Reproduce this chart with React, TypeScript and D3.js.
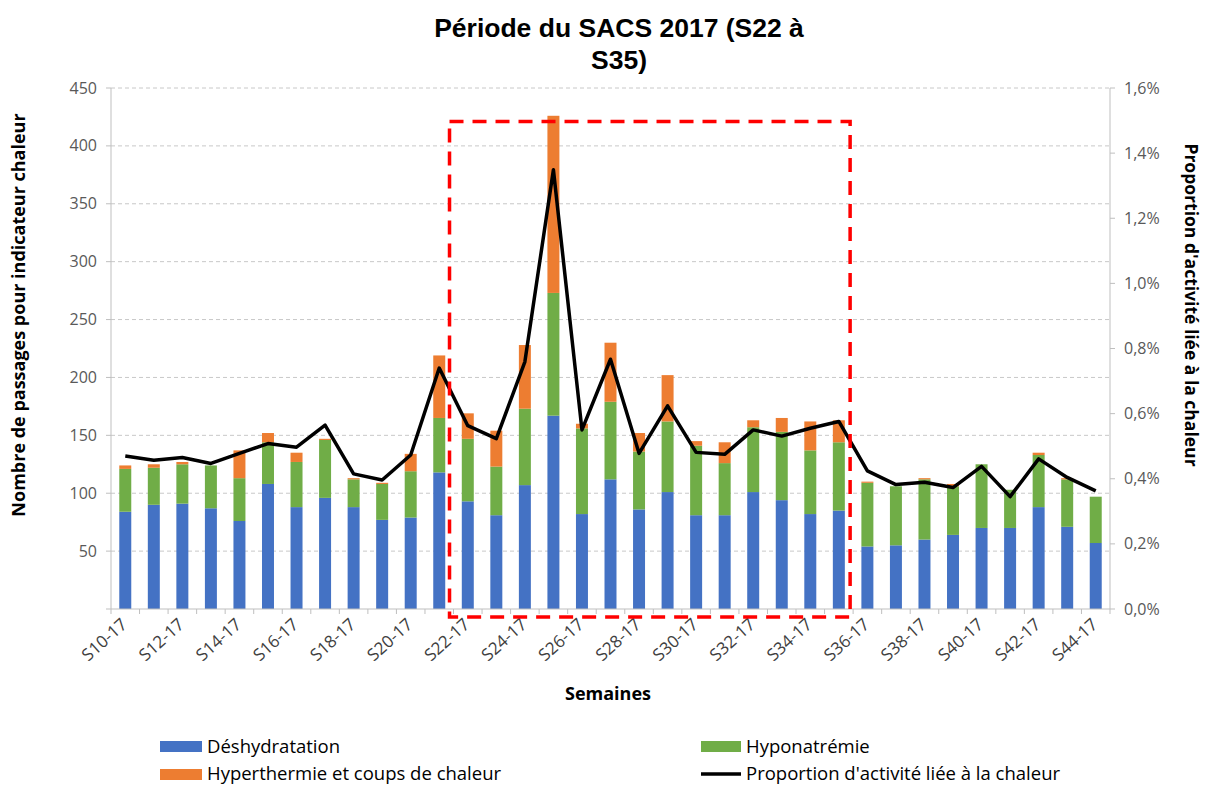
import React from "react";
import * as d3 from "d3";

const weeks = [
  "S10-17","S11-17","S12-17","S13-17","S14-17","S15-17","S16-17","S17-17","S18-17","S19-17",
  "S20-17","S21-17","S22-17","S23-17","S24-17","S25-17","S26-17","S27-17","S28-17","S29-17",
  "S30-17","S31-17","S32-17","S33-17","S34-17","S35-17","S36-17","S37-17","S38-17","S39-17",
  "S40-17","S41-17","S42-17","S43-17","S44-17",
];
const deshydratation = [84,90,91,87,76,108,88,96,88,77,79,118,93,81,107,167,82,112,86,101,81,81,101,94,82,85,54,55,60,64,70,70,88,71,57];
const hyponatremie = [37,32,34,37,37,36,39,50,24,31,40,47,54,42,66,106,74,67,50,61,60,45,56,59,55,59,55,51,52,42,55,33,45,41,40];
const hyperthermie = [3,3,2,0,24,8,8,1,1,1,15,54,22,31,55,153,4,51,16,40,4,18,6,12,25,19,1,0,1,2,0,0,2,1,0];
const proportion = [0.470,0.457,0.465,0.447,0.478,0.508,0.497,0.565,0.415,0.396,0.473,0.740,0.563,0.523,0.759,1.349,0.550,0.767,0.478,0.624,0.481,0.475,0.550,0.531,0.555,0.576,0.424,0.382,0.389,0.373,0.438,0.345,0.461,0.404,0.363];
const leftTicks = [50,100,150,200,250,300,350,400,450];
const rightTicks = [0,0.2,0.4,0.6,0.8,1.0,1.2,1.4,1.6];
const seriesNames = ["Déshydratation","Hyponatrémie","Hyperthermie et coups de chaleur"];
const lineName = "Proportion d'activité liée à la chaleur";
const colors = ["#4472C4","#70AD47","#ED7D31"];
const highlightStart = "S22-17";
const highlightEnd = "S35-17";
const highlightTop = 421;

export default function App() {
  const W = 1206, H = 787;
  const left = 111, right = 1110, top = 88, bottom = 609;
  const x = d3.scaleBand<string>().domain(weeks).range([left, right]).paddingInner(0.58).paddingOuter(0.29);
  const step = x.step();
  const y = d3.scaleLinear().domain([0, 450]).range([bottom, top]);
  const y2 = d3.scaleLinear().domain([0, 1.6]).range([bottom, top]);
  const cx = (w: string) => (x(w) as number) + x.bandwidth() / 2;

  const rows = weeks.map((w, i) => ({ w, v: [deshydratation[i], hyponatremie[i], hyperthermie[i]] }));
  const line = d3.line<number>().x((_, i) => cx(weeks[i])).y((d) => y2(d));
  const fmtPct = (v: number) => d3.format(".1f")(v).replace(".", ",") + "%";
  const font = "'Open Sans', sans-serif";
  const tickColor = "#595959";

  const hx0 = cx(highlightStart) - step / 2 - 4;
  const hx1 = cx(highlightEnd) + step / 2 - 3;

  return (
    <svg width={W} height={H} style={{ position: "absolute", left: 0, top: 0, background: "#fff" }}>
      <text x={619} y={37} textAnchor="middle" fontFamily="'Liberation Sans', Arial, sans-serif" fontWeight="bold" fontSize={26.5}>Période du SACS 2017 (S22 à</text>
      <text x={619} y={69} textAnchor="middle" fontFamily="'Liberation Sans', Arial, sans-serif" fontWeight="bold" fontSize={26.5}>S35)</text>

      {leftTicks.map((t) => (
        <line key={"g" + t} x1={left} x2={right} y1={y(t)} y2={y(t)} stroke="#c8c8c8" strokeDasharray="4,3" strokeWidth={1} />
      ))}

      {rows.map((r) => {
        let acc = 0;
        return r.v.map((v, k) => {
          const y0 = y(acc);
          acc += v;
          const y1 = y(acc);
          return <rect key={r.w + k} x={x(r.w)} y={y1} width={x.bandwidth()} height={y0 - y1} fill={colors[k]} />;
        });
      })}

      {/* left axis */}
      <line x1={left} x2={left} y1={top} y2={bottom} stroke="#bfbfbf" />
      {[0, ...leftTicks].map((t) => (
        <g key={"l" + t}>
          <line x1={left - 5} x2={left} y1={y(t)} y2={y(t)} stroke="#bfbfbf" />
          {t > 0 && (
            <text x={left - 14} y={y(t)} dy="0.35em" textAnchor="end" fontFamily={font} fontSize={16} fill={tickColor}>{t}</text>
          )}
        </g>
      ))}
      {/* right axis */}
      <line x1={right} x2={right} y1={top} y2={bottom} stroke="#bfbfbf" />
      {rightTicks.map((t) => (
        <g key={"r" + t}>
          <line x1={right} x2={right + 5} y1={y2(t)} y2={y2(t)} stroke="#bfbfbf" />
          <text x={right + 14} y={y2(t)} dy="0.35em" textAnchor="start" fontFamily={font} fontSize={16} fill={tickColor}>{fmtPct(t)}</text>
        </g>
      ))}
      {/* bottom axis */}
      <line x1={left} x2={right} y1={bottom} y2={bottom} stroke="#bfbfbf" />
      {weeks.map((w) => (
        <line key={"t" + w} x1={cx(w) - step / 2} x2={cx(w) - step / 2} y1={bottom} y2={bottom + 5} stroke="#bfbfbf" />
      ))}
      <line x1={right} x2={right} y1={bottom} y2={bottom + 5} stroke="#bfbfbf" />
      {weeks.filter((_, i) => i % 2 === 0).map((w) => (
        <text key={"xl" + w} transform={`translate(${cx(w) + 3},${bottom + 17}) rotate(-42)`} textAnchor="end" fontFamily={font} fontSize={17} fill="#404040">{w}</text>
      ))}

      <path d={line(proportion) || ""} fill="none" stroke="#000" strokeWidth={3.5} strokeLinejoin="round" />

      <rect x={hx0} y={y(highlightTop)} width={hx1 - hx0} height={bottom + 8 - y(highlightTop)} fill="none" stroke="#ff0000" strokeWidth={3.5} strokeDasharray="14,9" />

      <text transform={`translate(25,315) rotate(-90)`} textAnchor="middle" fontFamily={font} fontWeight="bold" fontSize={18} fill="#000">Nombre de passages pour indicateur chaleur</text>
      <text transform={`translate(1185,305) rotate(90)`} textAnchor="middle" fontFamily={font} fontWeight="bold" fontSize={17.5} fill="#000">Proportion d'activité liée à la chaleur</text>
      <text x={608} y={700} textAnchor="middle" fontFamily={font} fontWeight="bold" fontSize={18}>Semaines</text>

      {/* legend */}
      <rect x={160} y={741} width={42} height={11} fill={colors[0]} />
      <text x={207} y={747} dy="0.35em" fontFamily={font} fontSize={18.5} fill="#000">{seriesNames[0]}</text>
      <rect x={701} y={741} width={40} height={11} fill={colors[1]} />
      <text x={746} y={747} dy="0.35em" fontFamily={font} fontSize={18.5} fill="#000">{seriesNames[1]}</text>
      <rect x={160} y={769} width={42} height={11} fill={colors[2]} />
      <text x={207} y={774} dy="0.35em" fontFamily={font} fontSize={18.5} fill="#000">{seriesNames[2]}</text>
      <line x1={701} x2={741} y1={774} y2={774} stroke="#000" strokeWidth={3.5} />
      <text x={746} y={774} dy="0.35em" fontFamily={font} fontSize={18.5} fill="#000">{lineName}</text>
    </svg>
  );
}
